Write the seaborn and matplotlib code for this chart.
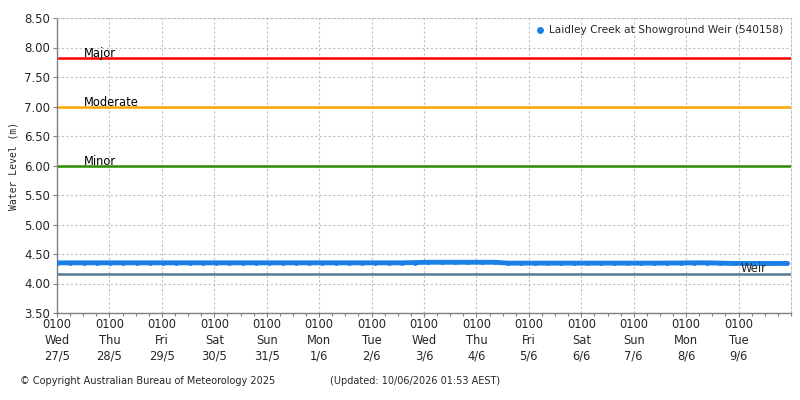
import pandas as pd
import numpy as np
import matplotlib.pyplot as plt
import matplotlib.dates as mdates
import seaborn as sns

# water level readings, 6-hourly from 27/5 01:00 to 9/6 23:00
day_labels = ["27/5", "28/5", "29/5", "30/5", "31/5", "1/6", "2/6",
              "3/6", "4/6", "5/6", "6/6", "7/6", "8/6", "9/6"]
weekdays = ["Wed", "Thu", "Fri", "Sat", "Sun", "Mon", "Tue",
            "Wed", "Thu", "Fri", "Sat", "Sun", "Mon", "Tue"]
levels = [
    4.35, 4.35, 4.35, 4.35,   # 27/5
    4.35, 4.35, 4.35, 4.35,   # 28/5
    4.35, 4.35, 4.35, 4.35,   # 29/5
    4.35, 4.35, 4.35, 4.35,   # 30/5
    4.35, 4.35, 4.35, 4.35,   # 31/5
    4.35, 4.35, 4.35, 4.35,   # 1/6
    4.35, 4.35, 4.35, 4.355,  # 2/6
    4.36, 4.36, 4.36, 4.36,   # 3/6
    4.36, 4.36, 4.345, 4.345, # 4/6
    4.345, 4.345, 4.345, 4.345,  # 5/6
    4.345, 4.345, 4.345, 4.345,  # 6/6
    4.345, 4.345, 4.347, 4.347,  # 7/6
    4.35, 4.35, 4.345, 4.34,  # 8/6
    4.34, 4.34, 4.34, 4.34,   # 9/6
]
thresholds = {"Major": 7.82, "Moderate": 7.00, "Minor": 6.00}
threshold_colors = {"Major": "#ff0000", "Moderate": "#ffa500", "Minor": "#2a8c00"}
weir_level = 4.16
series_name = "Laidley Creek at Showground Weir (540158)"

times = pd.date_range("2025-05-27 01:00", "2025-06-09 23:00", periods=len(levels))
df = pd.DataFrame({"time": times, "level": levels})

sns.set_style("white")
plt.rcParams['font.family'] = ['DejaVu Sans']

fig = plt.figure(figsize=(8, 4), dpi=100)
ax = fig.add_axes([0.07125, 0.2175, 0.9175, 0.7375])

x0 = pd.Timestamp("2025-05-27 01:00")
x1 = pd.Timestamp("2025-06-10 01:00")

# thresholds
for name, val in thresholds.items():
    ax.axhline(val, color=threshold_colors[name], lw=1.8, zorder=2)
    ax.text(x0 + pd.Timedelta(hours=12.5), val - 0.04, name, fontsize=8.3,
            va="bottom", ha="left", color="black", zorder=5)
ax.axhline(weir_level, color="#4f8090", lw=1.8, zorder=2)

sns.lineplot(data=df, x="time", y="level", ax=ax, color="#1a7fe6", lw=3.5,
             marker="o", markersize=3.5, markeredgewidth=0, label=series_name,
             legend=False, zorder=3)
ax.text(x0 + pd.Timedelta(hours=13 * 24 + 1), weir_level - 0.02, "Weir",
        fontsize=8.3, va="bottom", ha="left", zorder=5)

ax.set_xlim(x0, x1)
ax.set_ylim(3.5, 8.5)
ax.set_yticks(np.arange(3.5, 8.51, 0.5))
ax.set_yticklabels([f"{v:.2f}" for v in np.arange(3.5, 8.51, 0.5)], fontsize=8.5)

major_ticks = pd.date_range(x0, periods=len(day_labels), freq="D")
ax.set_xticks(major_ticks)
ax.set_xticklabels([f"0100\n{w}\n{d}" for w, d in zip(weekdays, day_labels)],
                   fontsize=8.3, linespacing=1.3)
ax.xaxis.set_minor_locator(mdates.HourLocator(byhour=[1, 7, 13, 19]))

ax.grid(True, which="major", color="#c0c0c0", linestyle=(0, (2, 2)), lw=0.8)
ax.tick_params(axis="both", which="both", direction="out", color="#808080",
               length=3, width=0.8, pad=2)
ax.tick_params(axis="x", which="minor", length=2, bottom=True)
ax.tick_params(axis="x", which="major", bottom=True, length=3, pad=0.5)
ax.tick_params(axis="y", left=True)

for side in ["left", "bottom"]:
    ax.spines[side].set_color("#808080")
    ax.spines[side].set_linewidth(1)
for side in ["top", "right"]:
    ax.spines[side].set_color("#c0c0c0")
    ax.spines[side].set_linestyle((0, (2, 2)))
    ax.spines[side].set_linewidth(0.8)

ax.set_xlabel("")
ax.set_ylabel("Water Level (m)", fontsize=7, family="DejaVu Sans Mono", labelpad=4)

leg = ax.legend(loc="upper right", frameon=False, fontsize=7.6, handlelength=0.8,
                handletextpad=0.5, borderaxespad=0.3)
for h in leg.legend_handles:
    h.set_linewidth(0)
    h.set_markersize(5)

fig.text(0.025, 0.04, "\u00a9 Copyright Australian Bureau of Meteorology 2025", fontsize=7)
fig.text(0.412, 0.04, "(Updated: 10/06/2026 01:53 AEST)", fontsize=7)

fig.savefig("out.png", dpi=100)
